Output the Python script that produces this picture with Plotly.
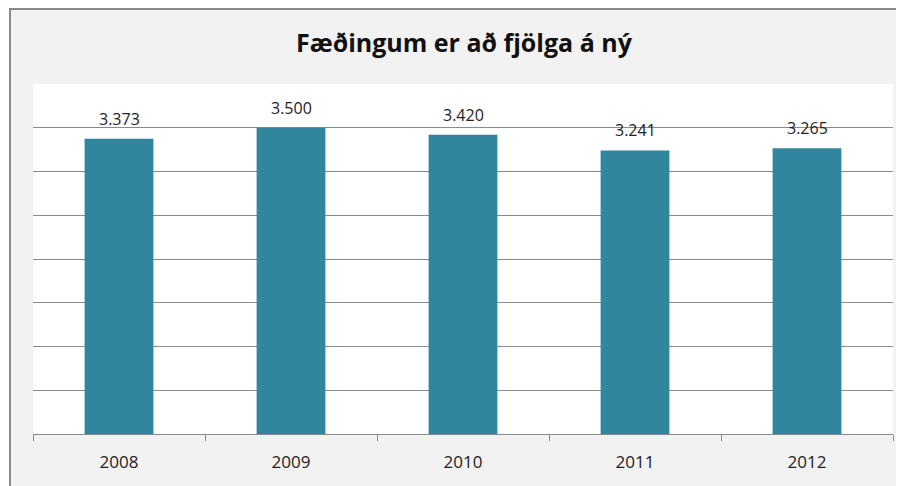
import plotly.graph_objects as go

years = ["2008", "2009", "2010", "2011", "2012"]
births = [3373, 3500, 3420, 3241, 3265]
title_text = "Fæðingum er að fjölga á ný"

W, H = 904, 486
OFF = 8  # browser body margin
# desired page-pixel positions of the plot area
L, R, T, B = 33, 893, 84, 434
ml, mt = L - OFF, T - OFF
mr, mb = W - (R - OFF), H - (B - OFF)
pw, ph = W - ml - mr, H - mt - mb

def px(x):  # page pixel -> paper x
    return (x - OFF - ml) / pw

def py(y):  # page pixel -> paper y
    return 1 - (y - OFF - mt) / ph

fig = go.Figure()
fig.add_trace(go.Bar(
    x=years, y=births, width=0.4,
    marker=dict(color="#31859C", line=dict(width=0)),
    hoverinfo="x+y",
))

annotations = [
    dict(x=i, y=v, xref="x", yref="y", text=f"{v:,}".replace(",", "."), showarrow=False,
         yanchor="middle", yshift=20,
         font=dict(family="Open Sans", size=16, color="#222222"))
    for i, v in enumerate(births)
]

shapes = [
    dict(type="rect", xref="paper", yref="paper", x0=px(0), x1=px(10), y0=py(0), y1=py(H + 20),
         fillcolor="white", line=dict(width=0), layer="below"),
    dict(type="line", xref="paper", yref="paper", x0=px(10), x1=px(W + 20), y0=py(9), y1=py(9),
         line=dict(color="#8a8a8a", width=2)),
    dict(type="line", xref="paper", yref="paper", x0=px(10), x1=px(10), y0=py(8), y1=py(H + 20),
         line=dict(color="#8a8a8a", width=2)),
]

fig.update_layout(
    width=W, height=H,
    margin=dict(l=ml, r=mr, t=mt, b=mb),
    paper_bgcolor="#f2f2f2", plot_bgcolor="white",
    separators=",.",
    showlegend=False,
    shapes=shapes,
    annotations=annotations,
    title=dict(text="<b>" + title_text + "</b>", x=px(464), xref="paper", xanchor="center",
               y=1 - (43 - OFF) / H, yanchor="middle",
               font=dict(family="Open Sans", size=25, color="#111111")),
    xaxis=dict(type="category", showline=True, linecolor="#8a8a8a", linewidth=1.3,
               ticks="outside", tickson="boundaries", ticklen=6, tickcolor="#8a8a8a",
               showgrid=False, tickfont=dict(family="Open Sans", size=17, color="#222222"),
               ticklabelstandoff=12, range=[-0.5, 4.5]),
    yaxis=dict(range=[0, 4000], dtick=500, showticklabels=False, gridcolor="#8a8a8a",
               gridwidth=1.4, zeroline=False, showline=False, fixedrange=True),
)

fig.write_html("out.html")
